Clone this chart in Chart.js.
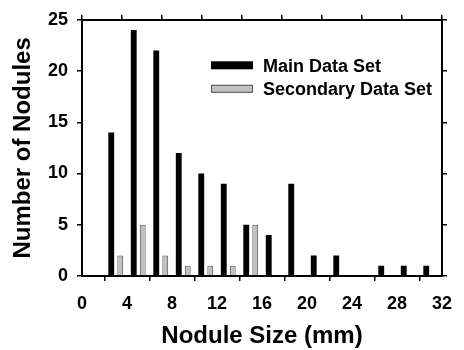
<!DOCTYPE html>
<html>
<head>
<meta charset="utf-8">
<script src="https://cdn.jsdelivr.net/npm/chart.js@4.4.1/dist/chart.umd.min.js"></script>
<style>
html,body{margin:0;padding:0;background:#fff;}
#wrap{width:464px;height:350px;position:relative;}
</style>
</head>
<body>
<div id="wrap"><canvas id="c" width="464" height="350"></canvas></div>
<script>
const bins = [3, 5, 7, 9, 11, 13, 15, 17, 19, 21, 23, 25, 27, 29, 31];
const mainSet = [14, 24, 22, 12, 10, 9, 5, 4, 9, 2, 2, 0, 1, 1, 1];
const secondarySet = [2, 5, 2, 1, 1, 1, 5, 0, 0, 0, 0, 0, 0, 0, 0];
const seriesNames = ['Main Data Set', 'Secondary Data Set'];
const xTitle = 'Nodule Size (mm)';
const yTitle = 'Number of Nodules';

const FONT = '"Liberation Sans", Arial, Helvetica, sans-serif';

const legendPlugin = {
  id: 'insideLegend',
  afterDraw(chart) {
    const ctx = chart.ctx;
    const a = chart.chartArea;
    const x0 = a.left + 129, y0 = a.top + 45.5, dy = 23.5;
    ctx.save();
    chart.data.datasets.forEach((ds, i) => {
      const y = y0 + i * dy;
      ctx.fillStyle = ds.backgroundColor;
      ctx.fillRect(x0, y - 4, 42, 8);
      if (ds.borderWidth) {
        ctx.strokeStyle = ds.borderColor;
        ctx.lineWidth = 1;
        ctx.strokeRect(x0 + 0.5, y - 3.5, 41, 7);
      }
      ctx.fillStyle = '#000';
      ctx.font = 'bold 18px ' + FONT;
      ctx.textBaseline = 'alphabetic';
      ctx.textAlign = 'left';
      ctx.fillText(ds.label, x0 + 52, y + 6.5);
    });
    ctx.restore();
  }
};

function fix(prop, val) { return function (s) { s[prop] = val; }; }

const gridOpt = { drawOnChartArea: false, drawTicks: true, tickLength: 5, color: '#000', lineWidth: 1.5 };
const borderOpt = { display: true, color: '#000', width: 2 };

new Chart(document.getElementById('c'), {
  type: 'bar',
  data: {
    datasets: [
      {
        label: seriesNames[0],
        data: bins.map((b, i) => ({ x: b, y: mainSet[i] })),
        backgroundColor: '#000',
        borderWidth: 0,
        categoryPercentage: 0.8,
        barPercentage: 0.65
      },
      {
        label: seriesNames[1],
        data: bins.map((b, i) => ({ x: b, y: secondarySet[i] })),
        backgroundColor: '#c0c0c0',
        borderColor: '#555',
        borderWidth: 1,
        categoryPercentage: 0.8,
        barPercentage: 0.65
      }
    ]
  },
  options: {
    responsive: false,
    animation: false,
    layout: { padding: 0 },
    plugins: { legend: { display: false }, tooltip: { enabled: false } },
    scales: {
      x: {
        type: 'linear', position: 'bottom', min: 0, max: 32, offset: false,
        ticks: { stepSize: 4, color: '#000', font: { family: FONT, size: 18, weight: 'bold' }, padding: 12, maxRotation: 0 },
        grid: gridOpt, border: borderOpt,
        title: { display: true, text: xTitle, color: '#000', font: { family: FONT, size: 24, weight: 'bold' }, padding: { top: 0, bottom: -1 } },
        afterFit: fix('height', 74)
      },
      x2: {
        type: 'linear', position: 'top', min: 0, max: 32,
        ticks: { stepSize: 4, display: false },
        grid: gridOpt, border: borderOpt,
        afterFit: fix('height', 16)
      },
      y: {
        type: 'linear', position: 'left', min: 0, max: 25,
        ticks: { stepSize: 5, color: '#000', font: { family: FONT, size: 18, weight: 'bold' }, padding: 9 },
        grid: gridOpt, border: borderOpt,
        title: { display: true, text: yTitle, color: '#000', font: { family: FONT, size: 24, weight: 'bold' }, padding: { top: 9, bottom: 0 } },
        afterFit: fix('width', 82)
      },
      y2: {
        type: 'linear', position: 'right', min: 0, max: 25,
        ticks: { stepSize: 5, display: false },
        grid: gridOpt, border: borderOpt,
        afterFit: fix('width', 13)
      }
    }
  },
  plugins: [legendPlugin]
});
</script>
</body>
</html>
